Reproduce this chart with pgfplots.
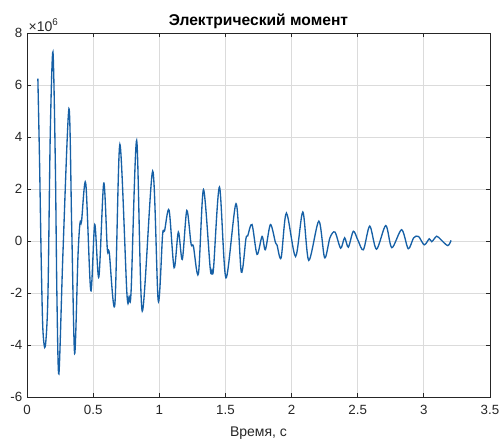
\documentclass[border=0pt]{standalone}
\usepackage{fontspec}
\setmainfont{Liberation Sans}
\usepackage{pgfplots}
\pgfplotsset{compat=1.18}
\usetikzlibrary{calc}

\definecolor{mlblue}{RGB}{22,96,166}
\definecolor{mlaxis}{RGB}{38,38,38}

\pgfplotstableread{
t      m
0.082  6.25
0.095  3.0
0.108  -0.9
0.120  -3.4
0.138  -4.05
0.158  -2.1
0.176  4.2
0.196  7.27
0.214  3.0
0.226  -2.1
0.241  -5.1
0.272  -0.4
0.317  5.09
0.338  0.5
0.360  -4.32
0.385  -0.6
0.400  0.68
0.412  0.75
0.444  2.23
0.482  -1.9
0.512  0.64
0.543  -1.38
0.580  2.23
0.607  -0.3
0.622  -0.45
0.664  -2.43
0.702  3.72
0.755  -2.0
0.772  -2.13
0.787  -1.9
0.829  3.87
0.871  -2.69
0.950  2.69
0.992  -2.30
1.025  0.25
1.040  0.4
1.074  1.19
1.112  -1.02
1.144  0.35
1.174  -0.70
1.208  1.18
1.240  -0.1
1.258  -0.2
1.296  -1.25
1.334  1.98
1.385  -1.05
1.398  -1.13
1.410  -1.05
1.455  2.08
1.504  -1.41
1.580  1.44
1.620  -1.19
1.655  0.1
1.668  0.2
1.701  0.64
1.739  -0.51
1.777  0.18
1.802  -0.33
1.840  0.64
1.878  -0.05
1.890  -0.15
1.921  -0.64
1.961  1.08
2.030  -0.59
2.085  1.12
2.130  -0.74
2.206  0.77
2.250  -0.64
2.290  0.13
2.328  0.35
2.371  -0.27
2.401  0.13
2.429  -0.23
2.467  0.38
2.502  0.03
2.543  -0.33
2.591  0.58
2.642  -0.31
2.712  0.60
2.758  -0.25
2.832  0.44
2.882  -0.29
2.923  0.13
2.960  0.18
3.003  -0.14
3.041  0.09
3.060  -0.02
3.097  0.19
3.130  0.05
3.181  -0.17
3.206  0.03
}\momentdata

\begin{document}
\begin{tikzpicture}
\begin{axis}[
    scale only axis,
    width=347pt, height=273pt,
    xmin=0, xmax=3.5, ymin=-6, ymax=8,
    xtick={0,0.5,...,3.5},
    ytick={-6,-4,...,8},
    tick pos=both, tick align=inside,
    major tick length=3pt,
    grid=major,
    major grid style={black!14, line width=0.6pt},
    axis line style={mlaxis, line width=0.6pt},
    tick style={mlaxis, line width=0.6pt},
    /pgf/number format/assume math mode=true,
    ticklabel style={font=\fontsize{10}{12}\selectfont, text=mlaxis},
    xticklabel style={yshift=-2.5pt},
    title={Электрический момент},
    title style={font=\fontsize{11.7}{13}\selectfont\bfseries, yshift=-6pt},
    xlabel={Время, с},
    xlabel style={font=\fontsize{10.5}{12}\selectfont, text=mlaxis, yshift=-2pt},
]
\coordinate (sw) at (rel axis cs:0,0);
\coordinate (ne) at (rel axis cs:1,1);
\addplot[mlblue, line width=1pt, smooth, no marks] table[x=t, y=m] {\momentdata};
\end{axis}
\node[anchor=south west, inner sep=1pt, font=\fontsize{10.5}{12}\selectfont, text=mlaxis]
    at (sw|-ne) {×10\textsuperscript{6}};
\pgfresetboundingbox
\path ($(sw)+(-20.25pt,-31.5pt)$) rectangle ($(ne)+(7.5pt,24.75pt)$);
\end{tikzpicture}
\end{document}
